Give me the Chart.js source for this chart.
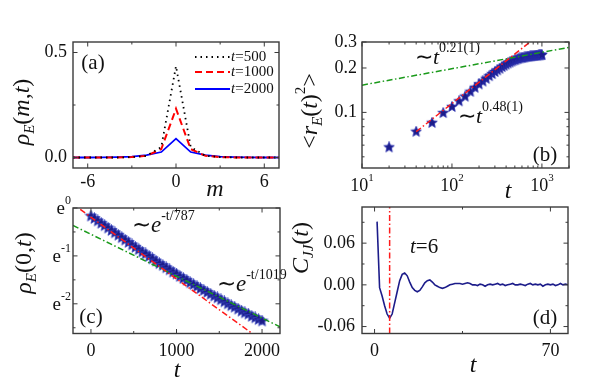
<!DOCTYPE html>
<html>
<head>
<meta charset="utf-8">
<script src="https://cdn.jsdelivr.net/npm/chart.js@4.4.1/dist/chart.umd.min.js"></script>
<style>
  html, body { margin: 0; padding: 0; background: #fff; }
  #wrap { position: relative; width: 599px; height: 384px; background: #fff; }
  #wrap canvas { position: absolute; left: 0; top: 0; }
</style>
</head>
<body>
<div id="wrap">
  <canvas id="ca" width="599" height="384"></canvas>
  <canvas id="cb" width="599" height="384"></canvas>
  <canvas id="cc" width="599" height="384"></canvas>
  <canvas id="cd" width="599" height="384"></canvas>
</div>
<script>
// ---- data ----
// (a) rho_E(m,t) profiles
const mSites   = [-7, -6, -5, -4, -3, -2, -1, 0, 1, 2, 3, 4, 5, 6, 7];
const rhoT500  = [0, 0, 0, 0, 0.002, 0.008, 0.05, 0.435, 0.05, 0.008, 0.002, 0, 0, 0, 0];
const rhoT1000 = [0, 0, 0, 0, 0.002, 0.008, 0.04, 0.232, 0.04, 0.008, 0.002, 0, 0, 0, 0];
const rhoT2000 = [0, 0, 0.001, 0.002, 0.004, 0.011, 0.026, 0.09, 0.026, 0.011, 0.004, 0.002, 0.001, 0, 0];
const legendA  = ['500', '1000', '2000'];

// (b) <r_E(t)^2> on log-log
const tB  = [20, 40, 60, 80, 100, 120, 140, 160, 180, 200, 220, 240, 260, 280, 300, 320, 340, 360, 380, 400,
             420, 440, 460, 480, 500, 520, 540, 560, 580, 600, 620, 640, 660, 680, 700, 720, 740, 760, 780, 800,
             820, 840, 860, 880, 900, 920, 940, 960, 980, 1000];
const r2B = [0.058, 0.074, 0.085, 0.099, 0.109, 0.119, 0.128, 0.138, 0.147, 0.155, 0.162, 0.169, 0.176, 0.182, 0.188,
             0.193, 0.198, 0.203, 0.207, 0.211, 0.215, 0.218, 0.221, 0.224, 0.226, 0.228, 0.230, 0.232, 0.233, 0.234,
             0.235, 0.236, 0.237, 0.238, 0.239, 0.239, 0.240, 0.240, 0.241, 0.241, 0.242, 0.242, 0.243, 0.243, 0.243,
             0.244, 0.244, 0.244, 0.245, 0.245];
const fit048T = [40, 900];
const fit048  = [0.074, 0.33];
const fit021T = [10, 2000];
const fit021  = [0.153, 0.276];

// (c) rho_E(0,t), log (base e) y axis
const tC   = [0, 40, 80, 120, 160, 200, 240, 280, 320, 360, 400, 440, 480, 520, 560, 600, 640, 680, 720, 760,
              800, 840, 880, 920, 960, 1000, 1040, 1080, 1120, 1160, 1200, 1240, 1280, 1320, 1360, 1400, 1440, 1480,
              1520, 1560, 1600, 1640, 1680, 1720, 1760, 1800, 1840, 1880, 1920, 1960, 2000];
const rhoC = [0.844, 0.803, 0.763, 0.726, 0.691, 0.657, 0.625, 0.595, 0.566, 0.538, 0.512, 0.487, 0.463, 0.440,
              0.419, 0.399, 0.383, 0.364, 0.346, 0.330, 0.313, 0.301, 0.287, 0.275, 0.262, 0.252, 0.239, 0.230,
              0.221, 0.210, 0.202, 0.194, 0.186, 0.179, 0.172, 0.165, 0.159, 0.153, 0.147, 0.141, 0.135, 0.130,
              0.126, 0.121, 0.116, 0.112, 0.109, 0.104, 0.101, 0.0973, 0.0944];
const fit787T  = [-125, 1885];
const fit787   = [0.970, 0.0728];
const fit1019T = [-210, 2210];
const fit1019  = [0.694, 0.0837];

// (d) C_JJ(t)
const tD   = [1, 2, 3, 4, 5, 6, 7, 8, 9, 10, 11, 12, 13, 14, 15, 16, 17, 18, 19, 20, 21, 22, 23, 24, 25, 26,
              27, 28, 29, 30, 31, 32, 33, 34, 35, 36, 37, 38, 39, 40, 41, 42, 43, 44, 45, 46, 47, 48, 49, 50, 51,
              52, 53, 54, 55, 56, 57, 58, 59, 60, 61, 62, 63, 64, 65, 66, 67, 68, 69, 70, 71, 72, 73, 74, 75, 76, 77];
const cjjD = [0.091, -0.004, -0.016, -0.030, -0.042, -0.048, -0.042, -0.026, -0.010, 0.006, 0.015, 0.017, 0.013,
              0.004, -0.004, -0.008, -0.010, -0.008, -0.003, 0.003, 0.006, 0.007, 0.004, 0.000, -0.002, -0.004,
              -0.005, -0.004, -0.002, 0.000, 0.001, 0.002, 0.002, 0.002, 0.001, 0.002, 0.003, 0.002, 0.000, 0.000,
              -0.001, 0.001, 0.000, -0.002, 0.000, 0.001, 0.000, 0.001, 0.002, 0.000, 0.001, -0.001, 0.000, 0.001,
              0.002, 0.000, 0.000, 0.001, 0.000, -0.001, 0.001, 0.002, 0.000, 0.001, 0.000, 0.001, -0.002, 0.000,
              0.001, 0.000, 0.001, -0.001, 0.000, 0.002, 0.000, 0.001, 0.000];
const markT = 6;

// tick values
const ticksAx = [-6, 0, 6],  ticksAy = [0, 0.5];
const ticksBx = [10, 100, 1000], ticksBy = [0.1, 0.2, 0.3];
const ticksCx = [0, 1000, 2000], powersCy = [0, -1, -2];
const ticksDx = [0, 70], ticksDy = [-0.06, 0, 0.06];

// ---- helpers ----
const W = 599, H = 384;
const YBOX = 60, XBOX = 30;   // room reserved for tick labels (labels are clipped to the scale box)
const FAM = '"Liberation Serif", "Times New Roman", serif';
const INK = '#111';

const pairs = (xs, ys) => xs.map((x, i) => ({ x: x, y: ys[i] }));

function makeStar(size, fill, edge) {
  const c = document.createElement('canvas');
  c.width = c.height = size;
  const g = c.getContext('2d');
  const R = size / 2 - 0.5, r = R * 0.45;
  g.beginPath();
  for (let i = 0; i < 10; i++) {
    const a = -Math.PI / 2 + i * Math.PI / 5;
    const rr = i % 2 ? r : R;
    g.lineTo(size / 2 + rr * Math.cos(a), size / 2 + rr * Math.sin(a));
  }
  g.closePath();
  g.fillStyle = fill; g.fill();
  g.strokeStyle = edge; g.lineWidth = 0.8; g.stroke();
  return c;
}

// text with italic / sub / sup pieces; flags: i italic, b subscript, p superscript
function rich(ctx, parts, x, y, size, align, rot) {
  ctx.save();
  ctx.translate(x, y);
  if (rot) ctx.rotate(rot);
  ctx.fillStyle = INK;
  ctx.textBaseline = 'middle';
  ctx.textAlign = 'left';
  const items = parts.map(p => {
    const f = p[1] || '';
    const small = f.includes('b') || f.includes('p');
    const font = (f.includes('i') ? 'italic ' : '') + (small ? Math.round(size * 0.62) : size) + 'px ' + FAM;
    ctx.font = font;
    return { s: p[0], font: font, w: ctx.measureText(p[0]).width,
             dy: f.includes('b') ? size * 0.3 : f.includes('p') ? -size * 0.42 : 0 };
  });
  const total = items.reduce((s, it) => s + it.w, 0);
  let cx = align === 'left' ? 0 : align === 'right' ? -total : -total / 2;
  items.forEach(it => { ctx.font = it.font; ctx.fillText(it.s, cx, it.dy); cx += it.w; });
  ctx.restore();
}

// box frame with inward ticks on all four sides
function frame(chart, xMaj, xMin, yMaj, yMin) {
  const ctx = chart.ctx, a = chart.chartArea;
  const sx = chart.scales.x, sy = chart.scales.y;
  ctx.save();
  ctx.strokeStyle = '#3a3a3a';
  ctx.lineWidth = 1;
  ctx.beginPath();
  const seg = (x1, y1, x2, y2) => { ctx.moveTo(x1, y1); ctx.lineTo(x2, y2); };
  const xt = (vals, len) => vals.forEach(v => {
    const p = sx.getPixelForValue(v);
    seg(p, a.bottom, p, a.bottom - len); seg(p, a.top, p, a.top + len);
  });
  const yt = (vals, len) => vals.forEach(v => {
    const p = sy.getPixelForValue(v);
    seg(a.left, p, a.left + len, p); seg(a.right, p, a.right - len, p);
  });
  xt(xMaj, 4.5); xt(xMin, 2.5); yt(yMaj, 4.5); yt(yMin, 2.5);
  ctx.stroke();
  ctx.lineWidth = 1.4;
  ctx.strokeRect(a.left, a.top, a.right - a.left, a.bottom - a.top);
  ctx.restore();
}

function axis(type, pos, min, max, vals, fmt, show, pad) {
  return {
    type: type, position: pos, min: min, max: max,
    grid: { display: false, drawTicks: false }, border: { display: false },
    afterBuildTicks: s => { s.ticks = vals.map(v => ({ value: v })); },
    afterFit: s => { if (pos === 'bottom') s.height = XBOX; else s.width = YBOX; },
    ticks: { display: show, autoSkip: false, maxRotation: 0, padding: pad, color: INK,
             font: { family: FAM, size: 18 }, callback: fmt }
  };
}

function makeChart(id, area, datasets, xAxis, yAxis, deco) {
  return new Chart(document.getElementById(id), {
    type: 'scatter',
    data: { datasets: datasets },
    options: {
      responsive: false, animation: false, events: [],
      layout: { padding: { left: area.l - YBOX, top: area.t, right: W - area.r, bottom: H - area.b - XBOX } },
      plugins: { legend: { display: false }, tooltip: { enabled: false } },
      scales: { x: xAxis, y: yAxis }
    },
    plugins: [{ id: 'deco', afterDraw: c => deco(c) }]
  });
}

const lineSet = (xs, ys, color, width, dash) => ({
  data: pairs(xs, ys), showLine: true, borderColor: color, borderWidth: width,
  borderDash: dash, borderCapStyle: 'butt', pointRadius: 0, fill: false
});

const RED = '#ff1a1a', GREEN = '#1a9a1a', NAVY = '#1c1c8a';
const DASHDOT = [6, 2.5, 1.5, 2.5];
const styleA = [
  { color: '#000', width: 1.8, dash: [1.5, 4] },
  { color: '#ff0000', width: 2, dash: [7, 4] },
  { color: '#0000ff', width: 1.8, dash: [] }
];

// ---- (a) ----
makeChart('ca', { l: 73, t: 42, r: 279, b: 168 },
  [rhoT500, rhoT1000, rhoT2000].map((ys, i) => lineSet(mSites, ys, styleA[i].color, styleA[i].width, styleA[i].dash)),
  axis('linear', 'bottom', -7, 7, ticksAx, v => String(v), true, 3),
  axis('linear', 'left', -0.05, 0.55, ticksAy, v => v.toFixed(1), true, 6),
  c => {
    const ctx = c.ctx;
    frame(c, ticksAx, [-3, 3], ticksAy, [0.25]);
    [57, 72, 89].forEach((y, i) => {
      ctx.save();
      ctx.strokeStyle = styleA[i].color; ctx.lineWidth = styleA[i].width; ctx.setLineDash(styleA[i].dash);
      ctx.beginPath(); ctx.moveTo(195, y); ctx.lineTo(230, y); ctx.stroke();
      ctx.restore();
      rich(ctx, [['t', 'i'], ['=' + legendA[i]]], 231, y, 15, 'left');
    });
    rich(ctx, [['(a)']], 93, 63, 21);
    rich(ctx, [['m', 'i']], 215, 190, 24);
    rich(ctx, [['ρ', 'i'], ['E', 'ib'], ['('], ['m', 'i'], [','], ['t', 'i'], [')']], 23, 112, 24, 'center', -Math.PI / 2);
  });

// ---- (b) ----
const starB = makeStar(12, NAVY, '#2a30b0');
makeChart('cb', { l: 362, t: 42, r: 569, b: 168 },
  [
    lineSet(fit048T, fit048, RED, 1.5, DASHDOT),
    lineSet(fit021T, fit021, GREEN, 1.5, DASHDOT),
    { data: pairs(tB, r2B), pointStyle: starB, pointRadius: 6 }
  ],
  axis('logarithmic', 'bottom', 10, 2000, ticksBx, v => '', false, 0),
  axis('logarithmic', 'left', 0.042, 0.3, ticksBy, v => v.toFixed(1), true, 5),
  c => {
    const ctx = c.ctx, sx = c.scales.x;
    frame(c, ticksBx, [20, 30, 40, 50, 60, 70, 80, 90, 200, 300, 400, 500, 600, 700, 800, 900, 2000],
          ticksBy, [0.05, 0.06, 0.07, 0.08, 0.09]);
    ticksBx.forEach((v, i) => rich(ctx, [['10'], [String(i + 1), 'p']], sx.getPixelForValue(v), 186, 18));
    rich(ctx, [['∼'], ['t', 'i'], ['0.21(1)', 'p']], 415, 58, 22, 'left');
    rich(ctx, [['∼'], ['t', 'i'], ['0.48(1)', 'p']], 458, 117, 22, 'left');
    rich(ctx, [['(b)']], 545, 155, 21);
    rich(ctx, [['t', 'i']], 508, 192, 24);
    rich(ctx, [['<'], ['r', 'i'], ['E', 'ib'], ['('], ['t', 'i'], [')'], ['2', 'p'], ['>']], 311, 111, 24, 'center', -Math.PI / 2);
  });

// ---- (c) ----
const starC = makeStar(13, '#1c1c86', '#3a48c4');
makeChart('cc', { l: 73, t: 208, r: 280, b: 333.5 },
  [
    lineSet(fit787T, fit787, RED, 1.5, DASHDOT),
    lineSet(fit1019T, fit1019, GREEN, 1.5, DASHDOT),
    { data: pairs(tC, rhoC), pointStyle: starC, pointRadius: 6 }
  ],
  axis('linear', 'bottom', -210, 2210, ticksCx, v => String(v), true, 7),
  axis('logarithmic', 'left', Math.exp(-2.62), 1, powersCy.map(k => Math.exp(k)), v => '', false, 0),
  c => {
    const ctx = c.ctx, sy = c.scales.y, a = c.chartArea;
    frame(c, ticksCx, [500, 1500], powersCy.map(k => Math.exp(k)), [-0.5, -1.5, -2.5].map(k => Math.exp(k)));
    powersCy.forEach(k => rich(ctx, [['e'], [String(k), 'p']], a.left - 2, sy.getPixelForValue(Math.exp(k)) + 1, 19, 'right'));
    rich(ctx, [['∼'], ['e', 'i'], ['-t/787', 'p']], 132, 226, 23, 'left');
    rich(ctx, [['∼'], ['e', 'i'], ['-t/1019', 'p']], 217, 285, 23, 'left');
    rich(ctx, [['(c)']], 91, 317, 21);
    rich(ctx, [['t', 'i']], 177, 371, 24);
    rich(ctx, [['ρ', 'i'], ['E', 'ib'], ['('], ['0'], [','], ['t', 'i'], [')']], 25, 263, 24, 'center', -Math.PI / 2);
  });

// ---- (d) ----
makeChart('cd', { l: 362, t: 207, r: 568, b: 333.5 },
  [
    lineSet([markT, markT], [-0.07, 0.112], RED, 1.5, DASHDOT),
    lineSet(tD, cjjD, NAVY, 1.6, [])
  ],
  axis('linear', 'bottom', -5, 77, ticksDx, v => String(v), true, 7),
  axis('linear', 'left', -0.07, 0.112, ticksDy, v => v.toFixed(2), true, 7),
  c => {
    const ctx = c.ctx;
    frame(c, ticksDx, [35], ticksDy, [-0.03, 0.03, 0.09]);
    rich(ctx, [['t', 'i'], ['=' + markT]], 410, 247, 21, 'left');
    rich(ctx, [['(d)']], 545, 318, 21);
    rich(ctx, [['t', 'i']], 473, 366, 24);
    rich(ctx, [['C', 'i'], ['JJ', 'ib'], ['('], ['t', 'i'], [')']], 302, 248, 24, 'center', -Math.PI / 2);
  });
</script>
</body>
</html>
